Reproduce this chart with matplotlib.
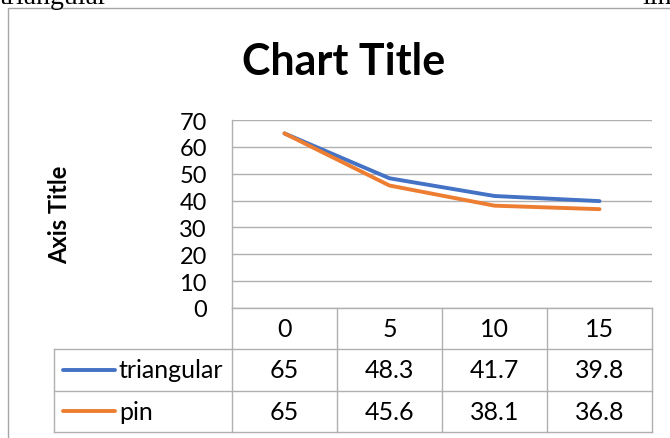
import matplotlib
matplotlib.use("Agg")
import matplotlib.pyplot as plt
from matplotlib.patches import Rectangle

# --- data ---
categories = ["0", "5", "10", "15"]
series_names = ["triangular", "pin"]
triangular = [65, 48.3, 41.7, 39.8]
pin = [65, 45.6, 38.1, 36.8]
series_values = [triangular, pin]
series_colors = ["#4472C4", "#ED7D31"]

W, H = 670, 439
GRID = "#b0b0b0"
FONT = "Lato"
LW = 2.8


def fx(px):
    return px / W


def fy(py):
    return 1 - py / H


fig = plt.figure(figsize=(W / 100, H / 100), dpi=100)

# stray document text peeking in above the chart frame
fig.text(fx(0), fy(4), "triangular", family="Liberation Serif", fontsize=20,
         ha="left", va="baseline")
fig.text(fx(642), fy(4), "lin", family="Liberation Serif", fontsize=20,
         ha="left", va="baseline")

# chart frame
fig.add_artist(Rectangle((fx(8), fy(460)), fx(700) - fx(8), fy(9) - fy(460),
                         transform=fig.transFigure, fill=False,
                         edgecolor="#a6a6a6", lw=1.0))

fig.text(fx(344), fy(62), "Chart Title", family=FONT, fontweight="bold",
         fontsize=31, ha="center", va="center")

# --- plot area ---
plot_l, plot_r, plot_t, plot_b = 232, 652, 121, 309
ax = fig.add_axes([fx(plot_l), fy(plot_b), fx(plot_r) - fx(plot_l),
                   fy(plot_t) - fy(plot_b)])
x = list(range(len(categories)))
for vals, col in zip(series_values, series_colors):
    ax.plot(x, vals, color=col, lw=LW, solid_capstyle="round", zorder=3)
ax.set_xlim(-0.5, len(categories) - 0.5)
ax.set_ylim(0, 70)
ax.set_yticks(range(0, 71, 10))
ax.set_xticks([])
ax.grid(axis="y", color=GRID, lw=1.0)
for s in ["top", "right"]:
    ax.spines[s].set_visible(False)
for s in ["left", "bottom"]:
    ax.spines[s].set_color(GRID)
    ax.spines[s].set_linewidth(1.0)
ax.tick_params(axis="y", length=0, pad=18, labelsize=17)
for lab in ax.get_yticklabels():
    lab.set_family(FONT)

fig.text(fx(60), fy(215), "Axis Title", family=FONT, fontweight="bold",
         fontsize=17, rotation=90, ha="center", va="center")

# --- data table below the plot ---
tab_l, tab_b = 54, 433
col_w = (plot_r - plot_l) / len(categories)
x0 = -0.5 - (plot_l - tab_l) / col_w
tab = fig.add_axes([fx(tab_l), fy(tab_b), fx(plot_r) - fx(tab_l),
                    fy(plot_b) - fy(tab_b)])
tab.set_xlim(x0, len(categories) - 0.5)
tab.set_ylim(3, 0)
tab.axis("off")

n = len(categories)
for r in (1, 2, 3):
    tab.plot([x0, n - 0.5], [r, r], color=GRID, lw=1.0, clip_on=False)
for c in range(n + 1):
    tab.plot([c - 0.5, c - 0.5], [0, 3], color=GRID, lw=1.0, clip_on=False)
tab.plot([x0, x0], [1, 3], color=GRID, lw=1.0, clip_on=False)

for i, cat in enumerate(categories):
    tab.text(i, 0.5, cat, family=FONT, fontsize=18, ha="center", va="center")
for r, (name, vals, col) in enumerate(zip(series_names, series_values,
                                          series_colors), start=1):
    for i, v in enumerate(vals):
        tab.text(i, r + 0.5, f"{v:g}", family=FONT, fontsize=18,
                 ha="center", va="center")
    lx0 = x0 + 9 / col_w
    lx1 = x0 + 61 / col_w
    tab.plot([lx0, lx1], [r + 0.5, r + 0.5], color=col, lw=LW,
             solid_capstyle="round", clip_on=False)
    tab.text(x0 + 65 / col_w, r + 0.5, name, family=FONT, fontsize=18,
             ha="left", va="center")

fig.savefig("out.png", dpi=100)
